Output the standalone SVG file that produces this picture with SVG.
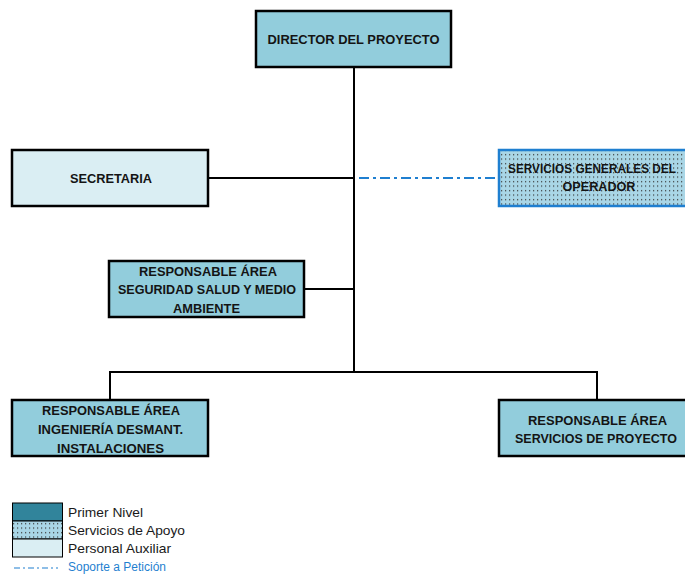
<svg xmlns="http://www.w3.org/2000/svg" width="685" height="574" viewBox="0 0 685 574">
<style>
.box{stroke:#000;stroke-width:2.5}
.main{fill:#92CDDC}
.aux{fill:#DAEEF3}
.sup{fill:url(#dots);stroke:#1F7FD0;stroke-width:2.5}
.t{font-family:"Liberation Sans Narrow","Arial Narrow","Liberation Sans",Arial,sans-serif;font-weight:bold;font-size:13.5px;fill:#141414;text-anchor:middle}
.lg{font-family:"Liberation Sans Narrow","Arial Narrow","Liberation Sans",Arial,sans-serif;font-size:13px;fill:#1a1a1a}
.ln{stroke:#000;stroke-width:2;fill:none}
.dd{stroke:#1F7FD0;stroke-width:2;fill:none;stroke-dasharray:10 4 3 4}
</style>
<defs>
<pattern id="dots" width="4" height="4.5" patternUnits="userSpaceOnUse">
<rect width="4" height="4.5" fill="#A9D6E6"/>
<rect x="1" y="1" width="1.2" height="1.2" fill="#3a3a3a"/>
</pattern>
</defs>
<g id="connectors">
<line class="ln" x1="354" y1="67" x2="354" y2="372"/>
<line class="ln" x1="208" y1="178" x2="354" y2="178"/>
<line class="ln" x1="304" y1="289" x2="354" y2="289"/>
<polyline class="ln" points="110,400 110,372 597,372 597,400"/>
<line class="dd" x1="359" y1="178" x2="499" y2="178"/>
</g>
<g id="director">
<rect class="box main" x="256" y="11" width="195" height="56"/>
<text class="t" x="353.5" y="44" textLength="172" lengthAdjust="spacingAndGlyphs">DIRECTOR DEL PROYECTO</text>
</g>
<g id="secretaria">
<rect class="box aux" x="12" y="150" width="196" height="56"/>
<text class="t" x="111" y="183" textLength="82" lengthAdjust="spacingAndGlyphs">SECRETARIA</text>
</g>
<g id="servicios-generales">
<rect class="sup" x="499" y="150" width="196" height="56"/>
<text class="t" x="592" y="173" textLength="168" lengthAdjust="spacingAndGlyphs" style="font-size:12px">SERVICIOS GENERALES DEL</text>
<text class="t" x="599" y="191" textLength="73" lengthAdjust="spacingAndGlyphs">OPERADOR</text>
</g>
<g id="seguridad">
<rect class="box main" x="109" y="261" width="195" height="56"/>
<text class="t" x="208" y="276" textLength="138" lengthAdjust="spacingAndGlyphs">RESPONSABLE ÁREA</text>
<text class="t" x="207" y="294" textLength="178" lengthAdjust="spacingAndGlyphs">SEGURIDAD SALUD Y MEDIO</text>
<text class="t" x="206.5" y="313" textLength="67" lengthAdjust="spacingAndGlyphs">AMBIENTE</text>
</g>
<g id="ingenieria">
<rect class="box main" x="12" y="400" width="196" height="56"/>
<text class="t" x="111" y="415" textLength="138" lengthAdjust="spacingAndGlyphs">RESPONSABLE ÁREA</text>
<text class="t" x="110.5" y="434" textLength="145" lengthAdjust="spacingAndGlyphs">INGENIERÍA DESMANT.</text>
<text class="t" x="110.5" y="453" textLength="107" lengthAdjust="spacingAndGlyphs">INSTALACIONES</text>
</g>
<g id="servicios-proyecto">
<rect class="box main" x="499" y="400" width="196" height="56"/>
<text class="t" x="597.5" y="425" textLength="139" lengthAdjust="spacingAndGlyphs">RESPONSABLE ÁREA</text>
<text class="t" x="596" y="443" textLength="162" lengthAdjust="spacingAndGlyphs" style="font-size:12.5px">SERVICIOS DE PROYECTO</text>
</g>
<g id="legend">
<rect x="12.5" y="503" width="50" height="18" fill="#31849B" stroke="#000" stroke-width="1"/>
<rect x="12.5" y="521" width="50" height="18" fill="url(#dots)" stroke="#000" stroke-width="1"/>
<rect x="12.5" y="539" width="50" height="18" fill="#DAEEF3" stroke="#000" stroke-width="1"/>
<line x1="14" y1="568" x2="58" y2="568" stroke="#1F7FD0" stroke-width="1.2" stroke-dasharray="6 3 2 3"/>
<text class="lg" x="68" y="517" textLength="75" lengthAdjust="spacingAndGlyphs">Primer Nivel</text>
<text class="lg" x="68" y="535" textLength="117" lengthAdjust="spacingAndGlyphs">Servicios de Apoyo</text>
<text class="lg" x="68" y="553" textLength="103" lengthAdjust="spacingAndGlyphs">Personal Auxiliar</text>
<text class="lg" x="68" y="571" textLength="98" lengthAdjust="spacingAndGlyphs" style="fill:#1F7FD0;font-size:12px">Soporte a Petición</text>
</g>
</svg>
